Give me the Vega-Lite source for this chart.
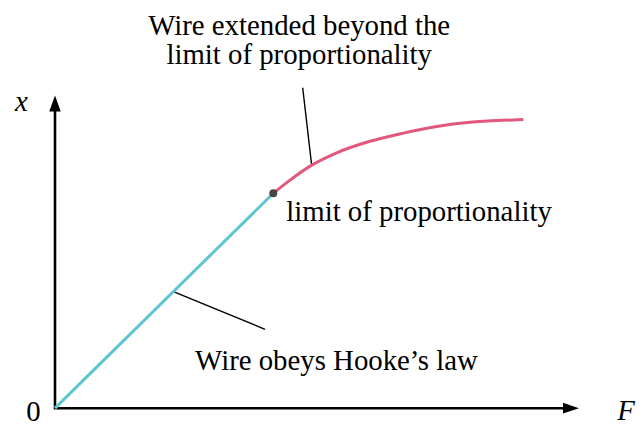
{
  "$schema": "https://vega.github.io/schema/vega-lite/v6.json",
  "width": 642,
  "height": 427,
  "padding": 0,
  "autosize": {"type": "fit", "contains": "padding"},
  "background": "white",
  "config": {"view": {"stroke": null}},
  "datasets": {
    "elastic": [
      {"F": 0, "X": 0},
      {"F": 41.66, "X": 68.77}
    ],
    "plastic": [
      {"F": 41.66, "X": 68.77},
      {"F": 44.85, "X": 72.97},
      {"F": 48.85, "X": 77.6},
      {"F": 53.76, "X": 81.7},
      {"F": 60.11, "X": 85.39},
      {"F": 66.47, "X": 88.01},
      {"F": 72.84, "X": 90.13},
      {"F": 79.2, "X": 91.48},
      {"F": 85.55, "X": 92.11},
      {"F": 89.37, "X": 92.33}
    ],
    "rules": [
      {"kind": "axis", "F": 0, "X": -0.3, "F2": 0, "X2": 95.6},
      {"kind": "axis", "F": -0.2, "X": 0, "F2": 97.3, "X2": 0},
      {"kind": "leader", "F": 47.27, "X": 102.52, "F2": 48.99, "X2": 77.6},
      {"kind": "leader", "F": 22.71, "X": 37.22, "F2": 40.08, "X2": 25.24}
    ],
    "arrows": [
      {"dir": "up", "F": 0, "X": 97.48},
      {"dir": "right", "F": 98.47, "X": 0}
    ],
    "labels": [
      {"style": "normal", "text": "Wire extended beyond the|limit of proportionality", "F": 46.6, "X": 119.56},
      {"style": "normal", "text": "limit of proportionality", "F": 69.47, "X": 59.94},
      {"style": "normal", "text": "Wire obeys Hooke’s law", "F": 53.72, "X": 12.3},
      {"style": "normal", "text": "0", "F": -4.1, "X": -4.1},
      {"style": "italic", "text": "x", "F": -6.39, "X": 94.95},
      {"style": "italic", "text": "F", "F": 108.97, "X": -3.79}
    ]
  },
  "layer": [
    {
      "data": {"name": "rules"},
      "transform": [{"filter": "datum.kind === 'axis'"}],
      "mark": {"type": "rule", "color": "black", "strokeWidth": 2.6},
      "encoding": {
        "x": {"field": "F", "type": "quantitative", "scale": {"domain": [-10.496, 112.023], "nice": false, "zero": false}, "axis": null},
        "y": {"field": "X", "type": "quantitative", "scale": {"domain": [-4.101, 130.599], "nice": false, "zero": false}, "axis": null},
        "x2": {"field": "F2"},
        "y2": {"field": "X2"}
      }
    },
    {
      "data": {"name": "rules"},
      "transform": [{"filter": "datum.kind === 'leader'"}],
      "mark": {"type": "rule", "color": "black", "strokeWidth": 1.4},
      "encoding": {
        "x": {"field": "F", "type": "quantitative"},
        "y": {"field": "X", "type": "quantitative"},
        "x2": {"field": "F2"},
        "y2": {"field": "X2"}
      }
    },
    {
      "data": {"name": "elastic"},
      "mark": {"type": "line", "color": "#5fc5d1", "strokeWidth": 3},
      "encoding": {
        "x": {"field": "F", "type": "quantitative"},
        "y": {"field": "X", "type": "quantitative"}
      }
    },
    {
      "data": {"name": "plastic"},
      "mark": {"type": "line", "color": "#e1587c", "strokeWidth": 3, "interpolate": "monotone"},
      "encoding": {
        "x": {"field": "F", "type": "quantitative"},
        "y": {"field": "X", "type": "quantitative"}
      }
    },
    {
      "data": {"values": [{"F": 41.66, "X": 68.77}]},
      "mark": {"type": "point", "shape": "circle", "filled": true, "color": "#4a4541", "opacity": 1, "size": 64},
      "encoding": {
        "x": {"field": "F", "type": "quantitative"},
        "y": {"field": "X", "type": "quantitative"}
      }
    },
    {
      "data": {"name": "arrows"},
      "transform": [{"filter": "datum.dir === 'up'"}],
      "mark": {"type": "point", "shape": "M0,-1L-0.72,1L0.72,1Z", "filled": true, "color": "black", "opacity": 1, "size": 256, "strokeWidth": 0},
      "encoding": {
        "x": {"field": "F", "type": "quantitative"},
        "y": {"field": "X", "type": "quantitative"}
      }
    },
    {
      "data": {"name": "arrows"},
      "transform": [{"filter": "datum.dir === 'right'"}],
      "mark": {"type": "point", "shape": "M1,0L-1,-0.68L-1,0.68Z", "filled": true, "color": "black", "opacity": 1, "size": 256, "strokeWidth": 0},
      "encoding": {
        "x": {"field": "F", "type": "quantitative"},
        "y": {"field": "X", "type": "quantitative"}
      }
    },
    {
      "data": {"name": "labels"},
      "transform": [{"filter": "datum.style === 'normal'"}],
      "mark": {"type": "text", "font": "'Liberation Serif', 'DejaVu Serif', serif", "fontSize": 28.8, "lineBreak": "|", "lineHeight": 29, "align": "center", "baseline": "alphabetic", "color": "black"},
      "encoding": {
        "x": {"field": "F", "type": "quantitative"},
        "y": {"field": "X", "type": "quantitative"},
        "text": {"field": "text"}
      }
    },
    {
      "data": {"name": "labels"},
      "transform": [{"filter": "datum.style === 'italic'"}],
      "mark": {"type": "text", "font": "'Liberation Serif', 'DejaVu Serif', serif", "fontStyle": "italic", "fontSize": 28.8, "align": "center", "baseline": "alphabetic", "color": "black"},
      "encoding": {
        "x": {"field": "F", "type": "quantitative"},
        "y": {"field": "X", "type": "quantitative"},
        "text": {"field": "text"}
      }
    }
  ]
}
